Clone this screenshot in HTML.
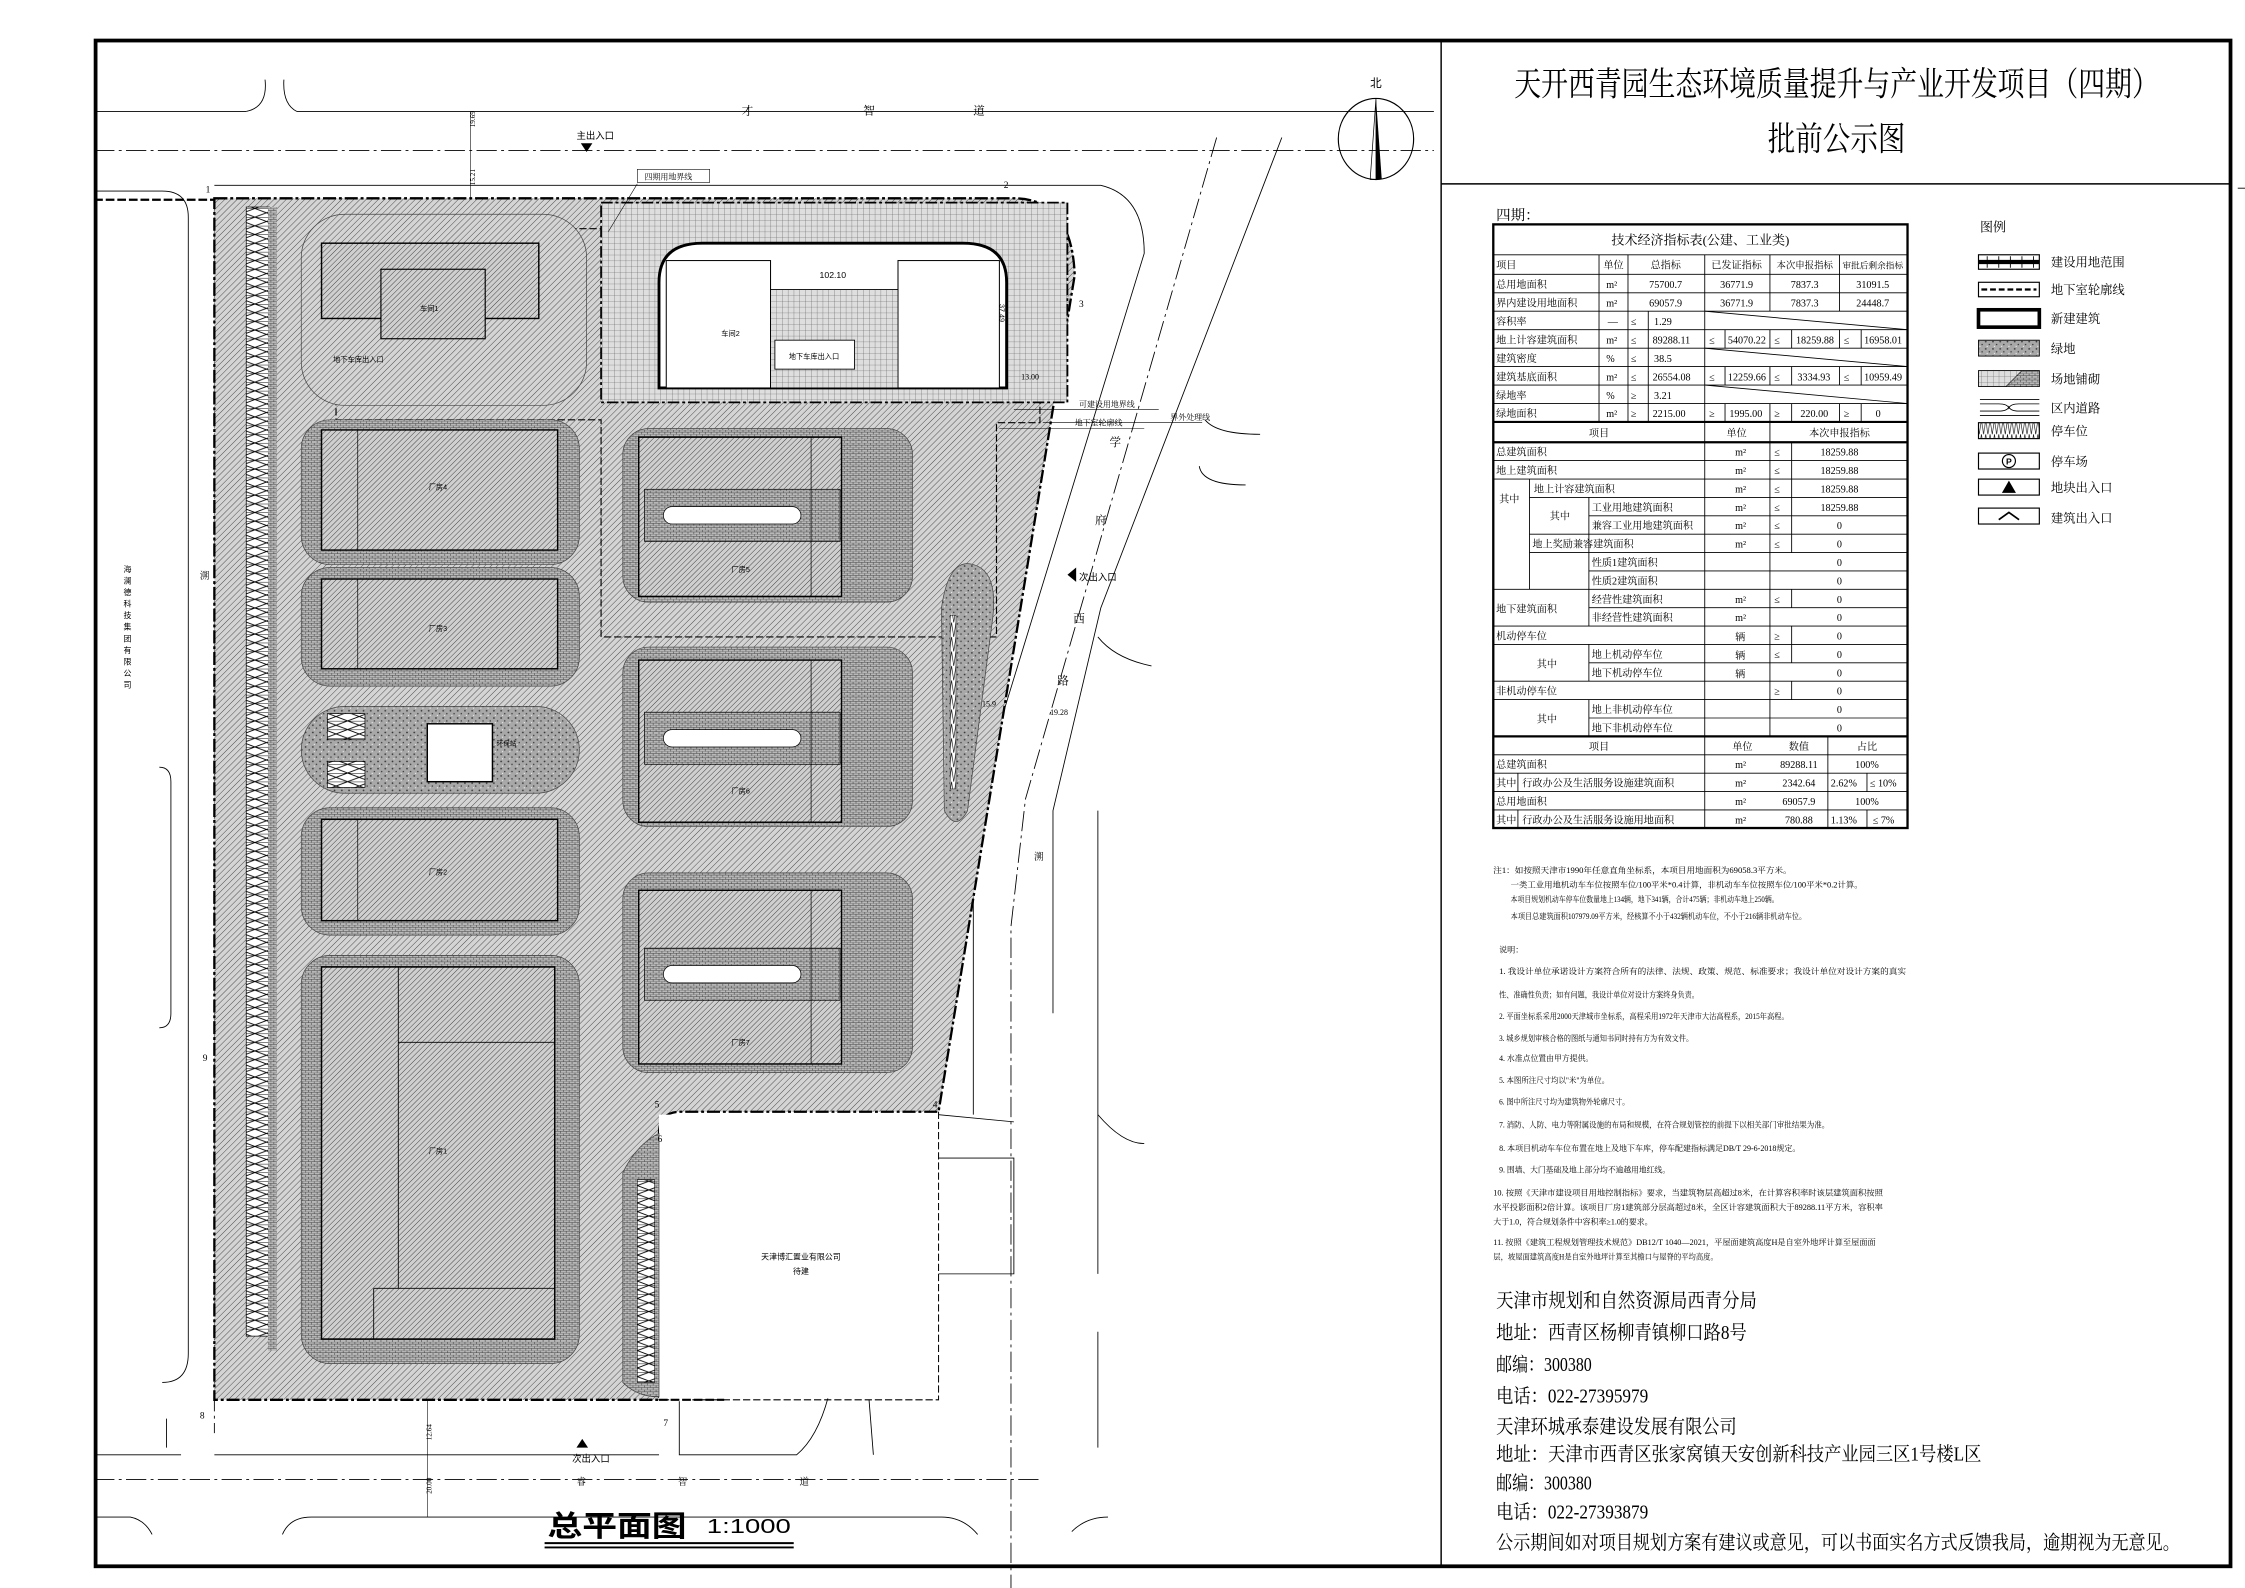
<!DOCTYPE html>
<html><head><meta charset="utf-8"><style>
html,body{margin:0;padding:0;background:#fff;}
svg{display:block;}
text{font-family:"Liberation Serif","Noto Serif CJK SC",serif;fill:#000;}
.s{font-family:"Liberation Sans","Noto Sans CJK SC",sans-serif;}
.t{font-size:7px;}
.n{font-size:5.6px;}
.c{font-size:13.5px;}
.m{text-anchor:middle;}
</style></head><body>
<svg width="2245" height="1588" viewBox="0 0 1550 1097" preserveAspectRatio="none" xmlns="http://www.w3.org/2000/svg">
<defs>
<pattern id="h" width="3" height="3" patternUnits="userSpaceOnUse" patternTransform="rotate(45)"><rect width="3" height="3" fill="#d4d4d4"/><line x1="0" y1="0" x2="0" y2="3" stroke="#3a3a3a" stroke-width="0.6"/></pattern>
<pattern id="h2" width="2.6" height="2.6" patternUnits="userSpaceOnUse" patternTransform="rotate(45)"><rect width="2.6" height="2.6" fill="#cfcfcf"/><line x1="0" y1="0" x2="0" y2="2.6" stroke="#333" stroke-width="0.6"/></pattern>
<pattern id="b" width="4" height="3" patternUnits="userSpaceOnUse"><rect width="4" height="3" fill="#b8b8b8"/><path d="M0 0H4M0 1.5H4M1 0V1.5M3 1.5V3" stroke="#444" stroke-width="0.4"/></pattern>
<pattern id="g" width="4" height="4" patternUnits="userSpaceOnUse"><rect width="4" height="4" fill="#dedede"/><path d="M0 0H4M0 0V4" stroke="#555" stroke-width="0.4"/></pattern>
<pattern id="sp" width="5" height="5" patternUnits="userSpaceOnUse"><rect width="5" height="5" fill="#a8a8a8"/><circle cx="1" cy="1" r="0.6" fill="#333"/><circle cx="3.5" cy="3" r="0.5" fill="#333"/><circle cx="2" cy="4.2" r="0.4" fill="#fff"/></pattern>
<pattern id="pk" width="16" height="6" patternUnits="userSpaceOnUse"><rect width="16" height="6" fill="#fff"/><path d="M0 0L16 6M0 6L16 0" stroke="#000" stroke-width="0.6"/><path d="M0 0H16" stroke="#000" stroke-width="0.6"/></pattern>
<pattern id="zz" width="3" height="10" patternUnits="userSpaceOnUse"><rect width="3" height="10" fill="#fff"/><path d="M0 0L1.5 10L3 0" stroke="#000" stroke-width="0.4" fill="none"/></pattern>
</defs>
<rect width="1550" height="1097" fill="#fff"/>

<g fill="none" stroke="#000" stroke-width="0.6">
<path d="M65 77H170M205 77H990"/>
<path d="M170 77Q185 74 183 55M205 77Q195 72 196 55"/>
<path d="M65 104H990" stroke-dasharray="14 3 2 3"/>
<path d="M65 132H112Q130 132 130 150V935Q130 955 112 955"/>
<path d="M148 128H760Q790 135 790 175L672 560V770"/>
<path d="M840 95L708 552L698 640V1097" stroke-dasharray="14 3 2 3"/>
<path d="M885 95L760 420L727 560V700"/>
<path d="M832 290Q840 300 870 300M828 322Q830 335 860 335"/>
<path d="M758 560V880M758 920V1000"/>
<path d="M758 770Q775 790 790 790M758 440Q770 455 795 460"/>
<path d="M65 1005H125M148 1005H455"/>
<path d="M65 1022H720" stroke-dasharray="14 3 2 3"/>
<path d="M65 1048H90Q100 1050 105 1060M195 1060Q200 1048 215 1048H650Q665 1048 675 1060M740 1058Q750 1048 765 1048"/>
<path d="M469 968V1005H550Q580 980 580 885M600 967L603 1005M115 980V1000"/>
<path d="M148 137V990" stroke-dasharray="10 3 2 3"/>
<path d="M110 530Q118 530 118 540V700Q118 710 110 710"/>
<path d="M648 770L700 775M648 800L700 800V880H648"/>
</g>
<path d="M65 138H148" stroke="#000" stroke-width="1.5" stroke-dasharray="6 2"/>
<path d="M455 967H500" stroke="#000" stroke-width="1.5" stroke-dasharray="6 2"/>

<path d="M148 137L700 137Q740 137 742 190L648 768L470 768Q455 768 455 783L455 967L148 967Z" fill="url(#h)" stroke="#000" stroke-width="1.6" stroke-dasharray="9 2 2 2"/>
<rect x="455" y="770" width="193" height="196" fill="#fff"/>
<path d="M648 768V967H455" fill="none" stroke="#000" stroke-width="0.7" stroke-dasharray="5 2"/>
<rect x="170" y="143" width="16" height="780" fill="url(#pk)" stroke="#000" stroke-width="0.5"/>
<rect x="185" y="143" width="6" height="790" fill="url(#b)"/>
<path d="M232 158H718V292H688V440H415V290H232Z" fill="none" stroke="#000" stroke-width="0.8" stroke-dasharray="5 2"/>

<rect x="208" y="148" width="197" height="132" rx="30" fill="url(#h)" stroke="#444" stroke-width="0.5"/>
<rect x="222" y="168" width="150" height="52" fill="url(#h2)" stroke="#000" stroke-width="1"/>
<rect x="263" y="186" width="72" height="48" fill="url(#h2)" stroke="#000" stroke-width="0.8"/>
<text x="290" y="215" class="s" font-size="5">车间1</text>
<text x="230" y="250" class="s" font-size="5">地下车库出入口</text>
<rect x="415" y="140" width="322" height="138" fill="url(#g)" stroke="#000" stroke-width="1.2" stroke-dasharray="8 2 2 2"/>
<path d="M455 268V195Q455 168 485 168H665Q695 168 695 195V268Z" fill="#fff" stroke="#000" stroke-width="2"/>
<rect x="460" y="180" width="72" height="88" fill="#fff" stroke="#000" stroke-width="0.7"/>
<rect x="620" y="180" width="70" height="88" fill="#fff" stroke="#000" stroke-width="0.7"/>
<rect x="532" y="200" width="88" height="68" fill="url(#g)" stroke="#000" stroke-width="0.6"/>
<rect x="535" y="235" width="55" height="20" fill="#fff" stroke="#000" stroke-width="0.6"/>
<text x="575" y="192" class="s m" font-size="6">102.10</text>
<text x="498" y="232" class="s" font-size="5">车间2</text>
<text x="562" y="248" class="s m" font-size="5">地下车库出入口</text>
<text x="690" y="210" class="s" font-size="5" transform="rotate(90 690 210)">37.49</text>
<rect x="208" y="290" width="192" height="100" rx="20" fill="url(#b)" stroke="#444" stroke-width="0.5"/>
<rect x="222" y="297" width="163" height="83" fill="url(#h2)" stroke="#000" stroke-width="1"/>
<line x1="247" y1="297" x2="247" y2="380" stroke="#000" stroke-width="0.5"/>
<text x="296" y="338" class="s" font-size="5">厂房4</text>
<rect x="208" y="392" width="192" height="82" rx="20" fill="url(#b)" stroke="#444" stroke-width="0.5"/>
<rect x="222" y="400" width="163" height="62" fill="url(#h2)" stroke="#000" stroke-width="1"/>
<line x1="247" y1="400" x2="247" y2="462" stroke="#000" stroke-width="0.5"/>
<text x="296" y="436" class="s" font-size="5">厂房3</text>
<rect x="208" y="488" width="192" height="60" rx="30" fill="url(#sp)" stroke="#444" stroke-width="0.5"/>
<rect x="226" y="493" width="26" height="18" fill="url(#pk)" stroke="#000" stroke-width="0.5"/>
<rect x="226" y="526" width="26" height="18" fill="url(#pk)" stroke="#000" stroke-width="0.5"/>
<rect x="295" y="500" width="45" height="40" fill="#fff" stroke="#000" stroke-width="1"/>
<text x="343" y="515" class="s" font-size="4.5">环保站</text>
<rect x="208" y="558" width="192" height="88" rx="20" fill="url(#b)" stroke="#444" stroke-width="0.5"/>
<rect x="222" y="566" width="163" height="70" fill="url(#h2)" stroke="#000" stroke-width="1"/>
<line x1="247" y1="566" x2="247" y2="636" stroke="#000" stroke-width="0.5"/>
<text x="296" y="604" class="s" font-size="5">厂房2</text>
<rect x="208" y="660" width="192" height="282" rx="20" fill="url(#b)" stroke="#444" stroke-width="0.5"/>
<rect x="222" y="668" width="161" height="257" fill="url(#h2)" stroke="#000" stroke-width="1"/>
<path d="M275 668V890M275 720H383M258 890V925M258 890H383" fill="none" stroke="#000" stroke-width="0.6"/>
<text x="296" y="797" class="s" font-size="5">厂房1</text>
<rect x="430" y="296" width="200" height="120" rx="18" fill="url(#b)" stroke="#444" stroke-width="0.5"/>
<rect x="441" y="302" width="140" height="110" fill="url(#h2)" stroke="#000" stroke-width="1"/>
<rect x="445" y="338" width="135" height="36" fill="url(#b)" stroke="#000" stroke-width="0.5"/>
<rect x="458" y="350" width="95" height="12" rx="6" fill="#fff" stroke="#000" stroke-width="0.5"/>
<line x1="560" y1="302" x2="560" y2="412" stroke="#000" stroke-width="0.5"/>
<text x="505" y="395" class="s" font-size="5">厂房5</text>
<rect x="430" y="447" width="200" height="124" rx="18" fill="url(#b)" stroke="#444" stroke-width="0.5"/>
<rect x="441" y="456" width="140" height="112" fill="url(#h2)" stroke="#000" stroke-width="1"/>
<rect x="445" y="492" width="135" height="36" fill="url(#b)" stroke="#000" stroke-width="0.5"/>
<rect x="458" y="504" width="95" height="12" rx="6" fill="#fff" stroke="#000" stroke-width="0.5"/>
<line x1="560" y1="456" x2="560" y2="568" stroke="#000" stroke-width="0.5"/>
<text x="505" y="548" class="s" font-size="5">厂房6</text>
<rect x="430" y="603" width="200" height="138" rx="18" fill="url(#b)" stroke="#444" stroke-width="0.5"/>
<rect x="441" y="615" width="140" height="120" fill="url(#h2)" stroke="#000" stroke-width="1"/>
<rect x="445" y="655" width="135" height="36" fill="url(#b)" stroke="#000" stroke-width="0.5"/>
<rect x="458" y="667" width="95" height="12" rx="6" fill="#fff" stroke="#000" stroke-width="0.5"/>
<line x1="560" y1="615" x2="560" y2="735" stroke="#000" stroke-width="0.5"/>
<text x="505" y="722" class="s" font-size="5">厂房7</text>
<path d="M672 390Q690 395 685 430L668 560Q660 575 652 560L650 420Q655 385 672 390Z" fill="url(#sp)" stroke="#444" stroke-width="0.5"/>
<rect x="656" y="425" width="4" height="120" fill="url(#zz)" stroke="#000" stroke-width="0.3"/>
<path d="M455 783Q440 790 430 810V955Q440 965 455 965Z" fill="url(#b)" stroke="#444" stroke-width="0.5"/>
<rect x="440" y="815" width="12" height="140" fill="url(#pk)" stroke="#000" stroke-width="0.4"/>
<text x="553" y="870" class="s m" font-size="5.5">天津博汇置业有限公司</text>
<text x="553" y="880" class="s m" font-size="5.5">待建</text>

<g class="s" font-size="6.5" fill="#000">
<text x="142" y="133">1</text><text x="693" y="130">2</text><text x="745" y="212">3</text><text x="644" y="765">4</text>
<text x="452" y="765">5</text><text x="454" y="789">6</text><text x="458" y="985">7</text><text x="138" y="980">8</text><text x="140" y="733">9</text>
</g>
<path d="M401 99L409 99L405 105Z" fill="#000"/>
<text x="398" y="96" class="s" font-size="6.5">主出入口</text>
<path d="M398 1000L406 1000L402 994Z" fill="#000"/>
<text x="395" y="1010" class="s" font-size="6.5">次出入口</text>
<path d="M737 397L743 392L743 402Z" fill="#000"/>
<text x="745" y="401" class="s" font-size="6.5">次出入口</text>
<g class="s" font-size="5.5">
<rect x="440" y="117" width="50" height="9" fill="#fff" stroke="#000" stroke-width="0.4"/>
<text x="445" y="124">四期用地界线</text>
<path d="M440 127L420 160M700 283L800 283M690 296L790 296M720 292L830 292" stroke="#000" stroke-width="0.4" fill="none"/>
<text x="745" y="281">可建设用地界线</text>
<text x="742" y="294">地下室轮廓线</text>
<text x="808" y="290">界外处理线</text>
<text x="678" y="488">15.9</text><text x="725" y="494">19.28</text>
<text x="705" y="262">13.00</text>
</g>
<g class="s" font-size="5" fill="#000">
<text x="328" y="88" transform="rotate(-90 328 88)">19.69</text>
<text x="328" y="128" transform="rotate(-90 328 128)">15.21</text>
<text x="298" y="995" transform="rotate(-90 298 995)">12.64</text>
<text x="298" y="1032" transform="rotate(-90 298 1032)">20.00</text>
</g>
<line x1="325" y1="77" x2="325" y2="137" stroke="#000" stroke-width="0.4"/>
<line x1="295" y1="967" x2="295" y2="1048" stroke="#000" stroke-width="0.4"/>
<g class="s" font-size="8">
<text x="512" y="79">才</text><text x="596" y="79">智</text><text x="672" y="79">道</text>
<text x="398" y="1026" font-size="6.5">睿</text><text x="468" y="1026" font-size="6.5">智</text><text x="552" y="1026" font-size="6.5">道</text>
<text x="766" y="308">学</text><text x="756" y="362">府</text><text x="741" y="430">西</text><text x="730" y="473">路</text>
<text x="714" y="594" font-size="6.5">溯</text><text x="138" y="400" font-size="6.5">溯</text>
</g>
<text class="s m" font-size="5.5"><tspan x="88" y="395">海</tspan><tspan x="88" y="403">澜</tspan><tspan x="88" y="411">德</tspan><tspan x="88" y="419">科</tspan><tspan x="88" y="427">技</tspan><tspan x="88" y="435">集</tspan><tspan x="88" y="443">团</tspan><tspan x="88" y="451">有</tspan><tspan x="88" y="459">限</tspan><tspan x="88" y="467">公</tspan><tspan x="88" y="475">司</tspan></text>
<ellipse cx="950" cy="96" rx="26" ry="28" fill="none" stroke="#000" stroke-width="0.8"/>
<path d="M950 68L954 124L950 124Z" fill="#000"/><path d="M950 68L946 124L950 124Z" fill="none" stroke="#000" stroke-width="0.5"/>
<text x="950" y="60" class="s m" font-size="8">北</text>
<text x="378" y="1061" class="s" font-size="20" font-weight="bold" textLength="96" lengthAdjust="spacingAndGlyphs">总平面图</text>
<text x="488" y="1059" class="s" font-size="14" textLength="58" lengthAdjust="spacingAndGlyphs">1:1000</text>
<path d="M376 1066H548M376 1069H548" stroke="#000" stroke-width="1.3"/>

<rect x="66" y="28" width="1474" height="1054" fill="none" stroke="#000" stroke-width="2.6"/>
<line x1="995" y1="28" x2="995" y2="1082" stroke="#000" stroke-width="1"/>
<line x1="995" y1="127" x2="1540" y2="127" stroke="#000" stroke-width="1"/>
<line x1="1545" y1="130" x2="1550" y2="130" stroke="#000" stroke-width="0.6"/>
<text x="1268" y="66" class="m" font-size="23" textLength="445" lengthAdjust="spacingAndGlyphs">天开西青园生态环境质量提升与产业开发项目（四期）</text>
<text x="1268" y="104" class="m" font-size="23" textLength="95" lengthAdjust="spacingAndGlyphs">批前公示图</text>

<text x="1033" y="152" font-size="10">四期：</text>
<g stroke="#000" fill="none" stroke-width="0.6">
<rect x="1031" y="155" width="286" height="417" stroke-width="1.6"/>
<path d="M1031 176H1317M1031 189.5H1317M1031 202.25H1317M1031 215H1317M1031 227.75H1317M1031 240.5H1317M1031 253.25H1317M1031 266H1317M1031 278.75H1317"/>
<path d="M1031 291.5H1317M1031 305.5H1317M1031 508.7H1317" stroke-width="1.5"/>
<path d="M1104 176V291.5M1124 176V291.5M1138 215V291.5M1177 176V572M1222 176V215M1222 227.75V240.5M1222 253.25V266M1222 278.75V291.5M1270 176V215M1270 227.75V240.5M1270 253.25V266M1270 278.75V291.5"/>
<path d="M1191 227.75V240.5M1237 227.75V240.5M1285 227.75V240.5M1191 253.25V266M1237 253.25V266M1285 253.25V266M1191 278.75V291.5M1237 278.75V291.5M1285 278.75V291.5"/>
<path d="M1177 215L1317 227.75M1177 240.5L1317 253.25M1177 266L1317 278.75"/>
<path d="M1031 318.2H1317M1031 330.9H1317M1056 343.6H1317M1097 356.3H1317M1056 369H1317M1056 381.7H1317M1097 394.4H1317M1031 407.1H1317M1097 419.8H1317M1031 432.5H1317M1031 445.2H1317M1097 457.9H1317M1031 470.6H1317M1031 483.3H1317M1097 496H1317M1031 521.4H1317M1031 534.1H1317M1031 546.8H1317M1031 559.5H1317"/>
<path d="M1222 291.5V508.7M1237 305.5V381.7M1237 407.1V419.8M1237 432.5V457.9M1237 470.6V483.3M1056 330.9V407.1M1097 343.6V432.5M1097 445.2V470.6M1097 483.3V508.7M1262 508.7V572M1289 534.1V546.8M1289 559.5V572.2M1048 534.1V546.8M1048 559.5V572.2"/>
</g>
<g class="t">
<text x="1174" y="169" class="m" font-size="9">技术经济指标表(公建、工业类)</text>
<text x="1033" y="185.5">项目</text><text x="1107" y="185.5">单位</text><text x="1150" y="185.5" class="m">总指标</text><text x="1199" y="185.5" class="m">已发证指标</text><text x="1246" y="185.5" class="m" font-size="6.5">本次申报指标</text><text x="1293" y="185.5" class="m" font-size="6">审批后剩余指标</text>
<text x="1033" y="199">总用地面积</text><text x="1109" y="199">m²</text><text x="1150" y="199" class="m">75700.7</text><text x="1199" y="199" class="m">36771.9</text><text x="1246" y="199" class="m">7837.3</text><text x="1293" y="199" class="m">31091.5</text>
<text x="1033" y="211.7">界内建设用地面积</text><text x="1109" y="211.7">m²</text><text x="1150" y="211.7" class="m">69057.9</text><text x="1199" y="211.7" class="m">36771.9</text><text x="1246" y="211.7" class="m">7837.3</text><text x="1293" y="211.7" class="m">24448.7</text>
<text x="1033" y="224.5">容积率</text><text x="1110" y="224.5">—</text><text x="1126" y="224.5">≤</text><text x="1142" y="224.5">1.29</text>
<text x="1033" y="237.2">地上计容建筑面积</text><text x="1109" y="237.2">m²</text><text x="1126" y="237.2">≤</text><text x="1141" y="237.2">89288.11</text><text x="1180" y="237.2">≤</text><text x="1193" y="237.2">54070.22</text><text x="1225" y="237.2">≤</text><text x="1240" y="237.2">18259.88</text><text x="1273" y="237.2">≤</text><text x="1287" y="237.2">16958.01</text>
<text x="1033" y="250">建筑密度</text><text x="1109" y="250">%</text><text x="1126" y="250">≤</text><text x="1142" y="250">38.5</text>
<text x="1033" y="262.7">建筑基底面积</text><text x="1109" y="262.7">m²</text><text x="1126" y="262.7">≤</text><text x="1141" y="262.7">26554.08</text><text x="1180" y="262.7">≤</text><text x="1193" y="262.7">12259.66</text><text x="1225" y="262.7">≤</text><text x="1241" y="262.7">3334.93</text><text x="1273" y="262.7">≤</text><text x="1287" y="262.7">10959.49</text>
<text x="1033" y="275.5">绿地率</text><text x="1109" y="275.5">%</text><text x="1126" y="275.5">≥</text><text x="1142" y="275.5">3.21</text>
<text x="1033" y="288.2">绿地面积</text><text x="1109" y="288.2">m²</text><text x="1126" y="288.2">≥</text><text x="1141" y="288.2">2215.00</text><text x="1180" y="288.2">≥</text><text x="1194" y="288.2">1995.00</text><text x="1225" y="288.2">≥</text><text x="1243" y="288.2">220.00</text><text x="1273" y="288.2">≥</text><text x="1295" y="288.2">0</text>
<text x="1104" y="301.5" class="m">项目</text><text x="1199" y="301.5" class="m">单位</text><text x="1270" y="301.5" class="m">本次申报指标</text>
<text x="1033" y="314.8">总建筑面积</text><text x="1198" y="314.8">m²</text><text x="1225" y="314.8">≤</text><text x="1270" y="314.8" class="m">18259.88</text>
<text x="1033" y="327.5">地上建筑面积</text><text x="1198" y="327.5">m²</text><text x="1225" y="327.5">≤</text><text x="1270" y="327.5" class="m">18259.88</text>
<text x="1035" y="347">其中</text>
<text x="1059" y="340.2">地上计容建筑面积</text><text x="1198" y="340.2">m²</text><text x="1225" y="340.2">≤</text><text x="1270" y="340.2" class="m">18259.88</text>
<text x="1070" y="359">其中</text>
<text x="1099" y="352.9">工业用地建筑面积</text><text x="1198" y="352.9">m²</text><text x="1225" y="352.9">≤</text><text x="1270" y="352.9" class="m">18259.88</text>
<text x="1099" y="365.6">兼容工业用地建筑面积</text><text x="1198" y="365.6">m²</text><text x="1225" y="365.6">≤</text><text x="1270" y="365.6" class="m">0</text>
<text x="1058" y="378.3">地上奖励兼容建筑面积</text><text x="1198" y="378.3">m²</text><text x="1225" y="378.3">≤</text><text x="1270" y="378.3" class="m">0</text>
<text x="1099" y="391">性质1建筑面积</text><text x="1270" y="391" class="m">0</text>
<text x="1099" y="403.7">性质2建筑面积</text><text x="1270" y="403.7" class="m">0</text>
<text x="1033" y="423">地下建筑面积</text>
<text x="1099" y="416.4">经营性建筑面积</text><text x="1198" y="416.4">m²</text><text x="1225" y="416.4">≤</text><text x="1270" y="416.4" class="m">0</text>
<text x="1099" y="429.1">非经营性建筑面积</text><text x="1198" y="429.1">m²</text><text x="1270" y="429.1" class="m">0</text>
<text x="1033" y="441.8">机动停车位</text><text x="1198" y="442.5">辆</text><text x="1225" y="441.8">≥</text><text x="1270" y="441.8" class="m">0</text>
<text x="1061" y="461">其中</text>
<text x="1099" y="454.5">地上机动停车位</text><text x="1198" y="455.2">辆</text><text x="1225" y="454.5">≤</text><text x="1270" y="454.5" class="m">0</text>
<text x="1099" y="467.2">地下机动停车位</text><text x="1198" y="467.9">辆</text><text x="1270" y="467.2" class="m">0</text>
<text x="1033" y="479.9">非机动停车位</text><text x="1225" y="479.9">≥</text><text x="1270" y="479.9" class="m">0</text>
<text x="1061" y="499">其中</text>
<text x="1099" y="492.6">地上非机动停车位</text><text x="1270" y="492.6" class="m">0</text>
<text x="1099" y="505.3">地下非机动停车位</text><text x="1270" y="505.3" class="m">0</text>
<text x="1104" y="518" class="m">项目</text><text x="1196" y="518">单位</text><text x="1242" y="518" class="m">数值</text><text x="1289" y="518" class="m">占比</text>
<text x="1033" y="530.7">总建筑面积</text><text x="1198" y="530.7">m²</text><text x="1242" y="530.7" class="m">89288.11</text><text x="1289" y="530.7" class="m">100%</text>
<text x="1033" y="543.4">其中</text><text x="1051" y="543.4">行政办公及生活服务设施建筑面积</text><text x="1198" y="543.4">m²</text><text x="1242" y="543.4" class="m">2342.64</text><text x="1264" y="543.4">2.62%</text><text x="1291" y="543.4">≤ 10%</text>
<text x="1033" y="556.1">总用地面积</text><text x="1198" y="556.1">m²</text><text x="1242" y="556.1" class="m">69057.9</text><text x="1289" y="556.1" class="m">100%</text>
<text x="1033" y="568.8">其中</text><text x="1051" y="568.8">行政办公及生活服务设施用地面积</text><text x="1198" y="568.8">m²</text><text x="1242" y="568.8" class="m">780.88</text><text x="1264" y="568.8">1.13%</text><text x="1293" y="568.8">≤ 7%</text>
</g>

<text x="1367" y="160" font-size="9">图例</text>
<g stroke="#000" fill="none">
<rect x="1366" y="176" width="42" height="10" stroke-width="0.8"/><line x1="1366" y1="181" x2="1408" y2="181" stroke-width="3"/>
<path d="M1372 177V185M1380 177V185M1388 177V185M1396 177V185M1404 177V185" stroke-width="0.6"/>
<rect x="1366" y="195" width="42" height="10" stroke-width="0.8"/><line x1="1368" y1="200" x2="1406" y2="200" stroke-width="1.5" stroke-dasharray="4 2"/>
<rect x="1366" y="214" width="42" height="12" stroke-width="2.5"/>
<rect x="1366" y="235" width="42" height="11" fill="url(#sp)" stroke-width="0.6"/>
<rect x="1366" y="256" width="42" height="11" fill="url(#g)" stroke-width="0.6"/><path d="M1385 267L1396 256H1408V267Z" fill="url(#b)" stroke-width="0.4"/>
<path d="M1367 276H1408M1367 287H1408M1367 279H1380Q1386 279 1387 282Q1388 279 1394 279H1408M1367 284H1380Q1386 284 1387 281Q1388 284 1394 284H1408" stroke-width="0.6"/>
<rect x="1366" y="292" width="42" height="11" fill="url(#zz)" stroke-width="0.8"/>
<rect x="1366" y="313" width="42" height="11" stroke-width="0.8"/><circle cx="1387" cy="318.5" r="4.5" stroke-width="0.8"/>
<rect x="1366" y="331" width="42" height="11" stroke-width="0.8"/><path d="M1383 340L1387 333L1391 340Z" fill="#000"/>
<rect x="1366" y="351" width="42" height="11" stroke-width="0.8"/><path d="M1380 359L1387 354L1394 359" stroke-width="1.2"/>
</g>
<text x="1387" y="321" class="s m" font-size="6" font-weight="bold">P</text>
<g font-size="8.5">
<text x="1416" y="184">建设用地范围</text><text x="1416" y="203">地下室轮廓线</text><text x="1416" y="223">新建建筑</text><text x="1416" y="244">绿地</text>
<text x="1416" y="265">场地铺砌</text><text x="1416" y="285">区内道路</text><text x="1416" y="301">停车位</text><text x="1416" y="322">停车场</text>
<text x="1416" y="340">地块出入口</text><text x="1416" y="361">建筑出入口</text>
</g>

<g class="n">
<text x="1031" y="603" textLength="206" lengthAdjust="spacingAndGlyphs">注1：如按照天津市1990年任意直角坐标系，本项目用地面积为69058.3平方米。</text>
<text x="1043" y="613" textLength="243" lengthAdjust="spacingAndGlyphs">一类工业用地机动车车位按照车位/100平米*0.4计算，非机动车车位按照车位/100平米*0.2计算。</text>
<text x="1043" y="623" textLength="185" lengthAdjust="spacingAndGlyphs">本项目规划机动车停车位数量地上134辆，地下341辆，合计475辆；非机动车地上250辆。</text>
<text x="1043" y="635" textLength="204" lengthAdjust="spacingAndGlyphs">本项目总建筑面积107979.09平方米，经核算不小于432辆机动车位，不小于216辆非机动车位。</text>
<text x="1035" y="658">说明：</text>
<text x="1035" y="673" textLength="281" lengthAdjust="spacingAndGlyphs">1. 我设计单位承诺设计方案符合所有的法律、法规、政策、规范、标准要求；我设计单位对设计方案的真实</text>
<text x="1035" y="689" textLength="138" lengthAdjust="spacingAndGlyphs">性、准确性负责；如有问题，我设计单位对设计方案终身负责。</text>
<text x="1035" y="704" textLength="200" lengthAdjust="spacingAndGlyphs">2. 平面坐标系采用2000天津城市坐标系，高程采用1972年天津市大沽高程系，2015年高程。</text>
<text x="1035" y="719" textLength="134" lengthAdjust="spacingAndGlyphs">3. 城乡规划审核合格的图纸与通知书同时持有方为有效文件。</text>
<text x="1035" y="733" textLength="65" lengthAdjust="spacingAndGlyphs">4. 水准点位置由甲方提供。</text>
<text x="1035" y="748" textLength="76" lengthAdjust="spacingAndGlyphs">5. 本图所注尺寸均以"米"为单位。</text>
<text x="1035" y="763" textLength="90" lengthAdjust="spacingAndGlyphs">6. 图中所注尺寸均为建筑物外轮廓尺寸。</text>
<text x="1035" y="779" textLength="228" lengthAdjust="spacingAndGlyphs">7. 消防、人防、电力等附属设施的布局和规模，在符合规划管控的前提下以相关部门审批结果为准。</text>
<text x="1035" y="795" textLength="208" lengthAdjust="spacingAndGlyphs">8. 本项目机动车车位布置在地上及地下车库，停车配建指标满足DB/T 29-6-2018规定。</text>
<text x="1035" y="810" textLength="118" lengthAdjust="spacingAndGlyphs">9. 围墙、大门基础及地上部分均不逾越用地红线。</text>
<text x="1031" y="826" textLength="269" lengthAdjust="spacingAndGlyphs">10. 按照《天津市建设项目用地控制指标》要求，当建筑物层高超过8米，在计算容积率时该层建筑面积按照</text>
<text x="1031" y="836" textLength="269" lengthAdjust="spacingAndGlyphs">水平投影面积2倍计算。该项目厂房1建筑部分层高超过8米，全区计容建筑面积大于89288.11平方米，容积率</text>
<text x="1031" y="846" textLength="110" lengthAdjust="spacingAndGlyphs">大于1.0，符合规划条件中容积率≥1.0的要求。</text>
<text x="1031" y="860" textLength="264" lengthAdjust="spacingAndGlyphs">11. 按照《建筑工程规划管理技术规范》DB12/T 1040—2021，平屋面建筑高度H是自室外地坪计算至屋面面</text>
<text x="1031" y="870" textLength="155" lengthAdjust="spacingAndGlyphs">层，坡屋面建筑高度H是自室外地坪计算至其檐口与屋脊的平均高度。</text>
</g>

<g class="c">
<text x="1033" y="903" textLength="180" lengthAdjust="spacingAndGlyphs">天津市规划和自然资源局西青分局</text>
<text x="1033" y="925" textLength="173" lengthAdjust="spacingAndGlyphs">地址：西青区杨柳青镇柳口路8号</text>
<text x="1033" y="947" textLength="66" lengthAdjust="spacingAndGlyphs">邮编：300380</text>
<text x="1033" y="969" textLength="105" lengthAdjust="spacingAndGlyphs">电话：022-27395979</text>
<text x="1033" y="990" textLength="166" lengthAdjust="spacingAndGlyphs">天津环城承泰建设发展有限公司</text>
<text x="1033" y="1009" textLength="335" lengthAdjust="spacingAndGlyphs">地址：天津市西青区张家窝镇天安创新科技产业园三区1号楼L区</text>
<text x="1033" y="1029" textLength="66" lengthAdjust="spacingAndGlyphs">邮编：300380</text>
<text x="1033" y="1049" textLength="105" lengthAdjust="spacingAndGlyphs">电话：022-27393879</text>
<text x="1033" y="1070" textLength="472" lengthAdjust="spacingAndGlyphs">公示期间如对项目规划方案有建议或意见，可以书面实名方式反馈我局，逾期视为无意见。</text>
</g>
</svg>
</body></html>
